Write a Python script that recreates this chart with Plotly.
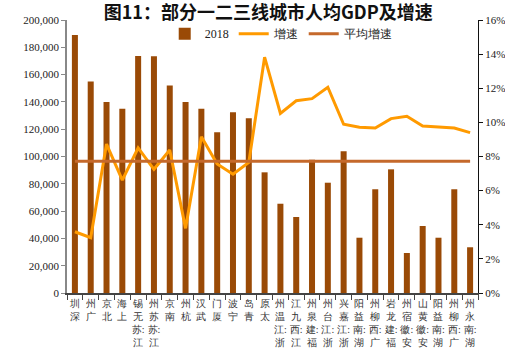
import plotly.graph_objects as go

cities = ["深圳", "广州", "北京", "上海", "江苏:无锡", "江苏:苏州", "南京", "杭州", "武汉", "厦门",
          "宁波", "青岛", "太原", "浙江:温州", "江西:九江", "福建:泉州", "浙江:台州", "浙江:嘉兴",
          "湖南:益阳", "广西:柳州", "福建:龙岩", "安徽:宿州", "安徽:黄山", "湖南:益阳", "广西:柳州", "湖南:永州"]
gdp_2018 = [189000, 155000, 140000, 135000, 173600, 173400, 152100, 140000, 135000, 117700,
            132400, 128000, 88400, 65400, 55700, 97700, 80800, 103800,
            40500, 76000, 90600, 29300, 49100, 40500, 76000, 33500]
growth = [0.0359, 0.0324, 0.0873, 0.0662, 0.0850, 0.0725, 0.0838, 0.0379, 0.0916, 0.0756,
          0.0696, 0.0765, 0.1382, 0.1053, 0.1127, 0.1139, 0.1206, 0.0989,
          0.0971, 0.0967, 0.1022, 0.1036, 0.0979, 0.0971, 0.0967, 0.0940]
avg_growth = [0.0772] * len(cities)


def vertical_label(name):
    parts = []
    for ch in name:
        if ch == ":" and parts:
            parts[-1] += ch
        else:
            parts.append(ch)
    return "<br>".join(reversed(parts))


xs = list(range(len(cities)))
ticktext = [vertical_label(c) for c in cities]

serif = "Liberation Serif"

fig = go.Figure()
fig.add_trace(go.Bar(x=xs, y=gdp_2018, name="2018", marker=dict(color="#9A4A06", line=dict(width=0)),
                     width=0.38, yaxis="y"))
fig.add_trace(go.Scatter(x=xs, y=growth, name="增速", mode="lines",
                         line=dict(color="#FF9A00", width=3), yaxis="y2"))
fig.add_trace(go.Scatter(x=xs, y=avg_growth, name="平均增速", mode="lines",
                         line=dict(color="#C5692B", width=3), yaxis="y2"))

fig.update_layout(
    width=505, height=358,
    margin=dict(l=67, r=27, t=20, b=65, autoexpand=False),
    paper_bgcolor="white", plot_bgcolor="white",
    font=dict(family=serif, size=11, color="#222"),
    title=dict(text="<b>图11：部分一二三线城市人均GDP及增速</b>", x=0.531, xanchor="center",
               y=0.965, yanchor="middle",
               font=dict(family="Noto Sans CJK SC", size=18, color="#111")),
    showlegend=True,
    legend=dict(orientation="h", x=0.52, xanchor="center", y=0.95, yanchor="middle",
                bgcolor="rgba(0,0,0,0)", font=dict(family=serif, size=12, color="#222"),
                itemwidth=30, tracegroupgap=0),
    xaxis=dict(range=[-0.5, len(cities) - 0.5], tickmode="array", tickvals=xs, ticktext=ticktext,
               ticks="", ticklen=0, showline=True, linecolor="#444", linewidth=1.5,
               showgrid=False, zeroline=False, tickangle=0, automargin=False,
               tickfont=dict(family=serif, size=10, color="#333"),
               minor=dict(tick0=-0.5, dtick=1, ticks="outside", ticklen=5, tickcolor="#444", showgrid=False)),
    yaxis=dict(range=[0, 200000], dtick=20000, tickformat=",", ticks="outside", ticklen=4,
               tickcolor="#888", showline=True, linecolor="#888", linewidth=1.5, automargin=False,
               showgrid=False, zeroline=False, tickfont=dict(family=serif, size=11, color="#222")),
    yaxis2=dict(range=[0, 0.16], dtick=0.02, tickformat=".0%", overlaying="y", side="right",
                ticks="outside", ticklen=4, tickcolor="#111", showline=True, linecolor="#111",
                linewidth=1, showgrid=False, zeroline=False, automargin=False,
                tickfont=dict(family=serif, size=11, color="#222")),
)

fig.write_html("out.html", config={"displayModeBar": False},
               post_script="document.body.style.margin='0px';document.body.style.overflow='hidden';")
